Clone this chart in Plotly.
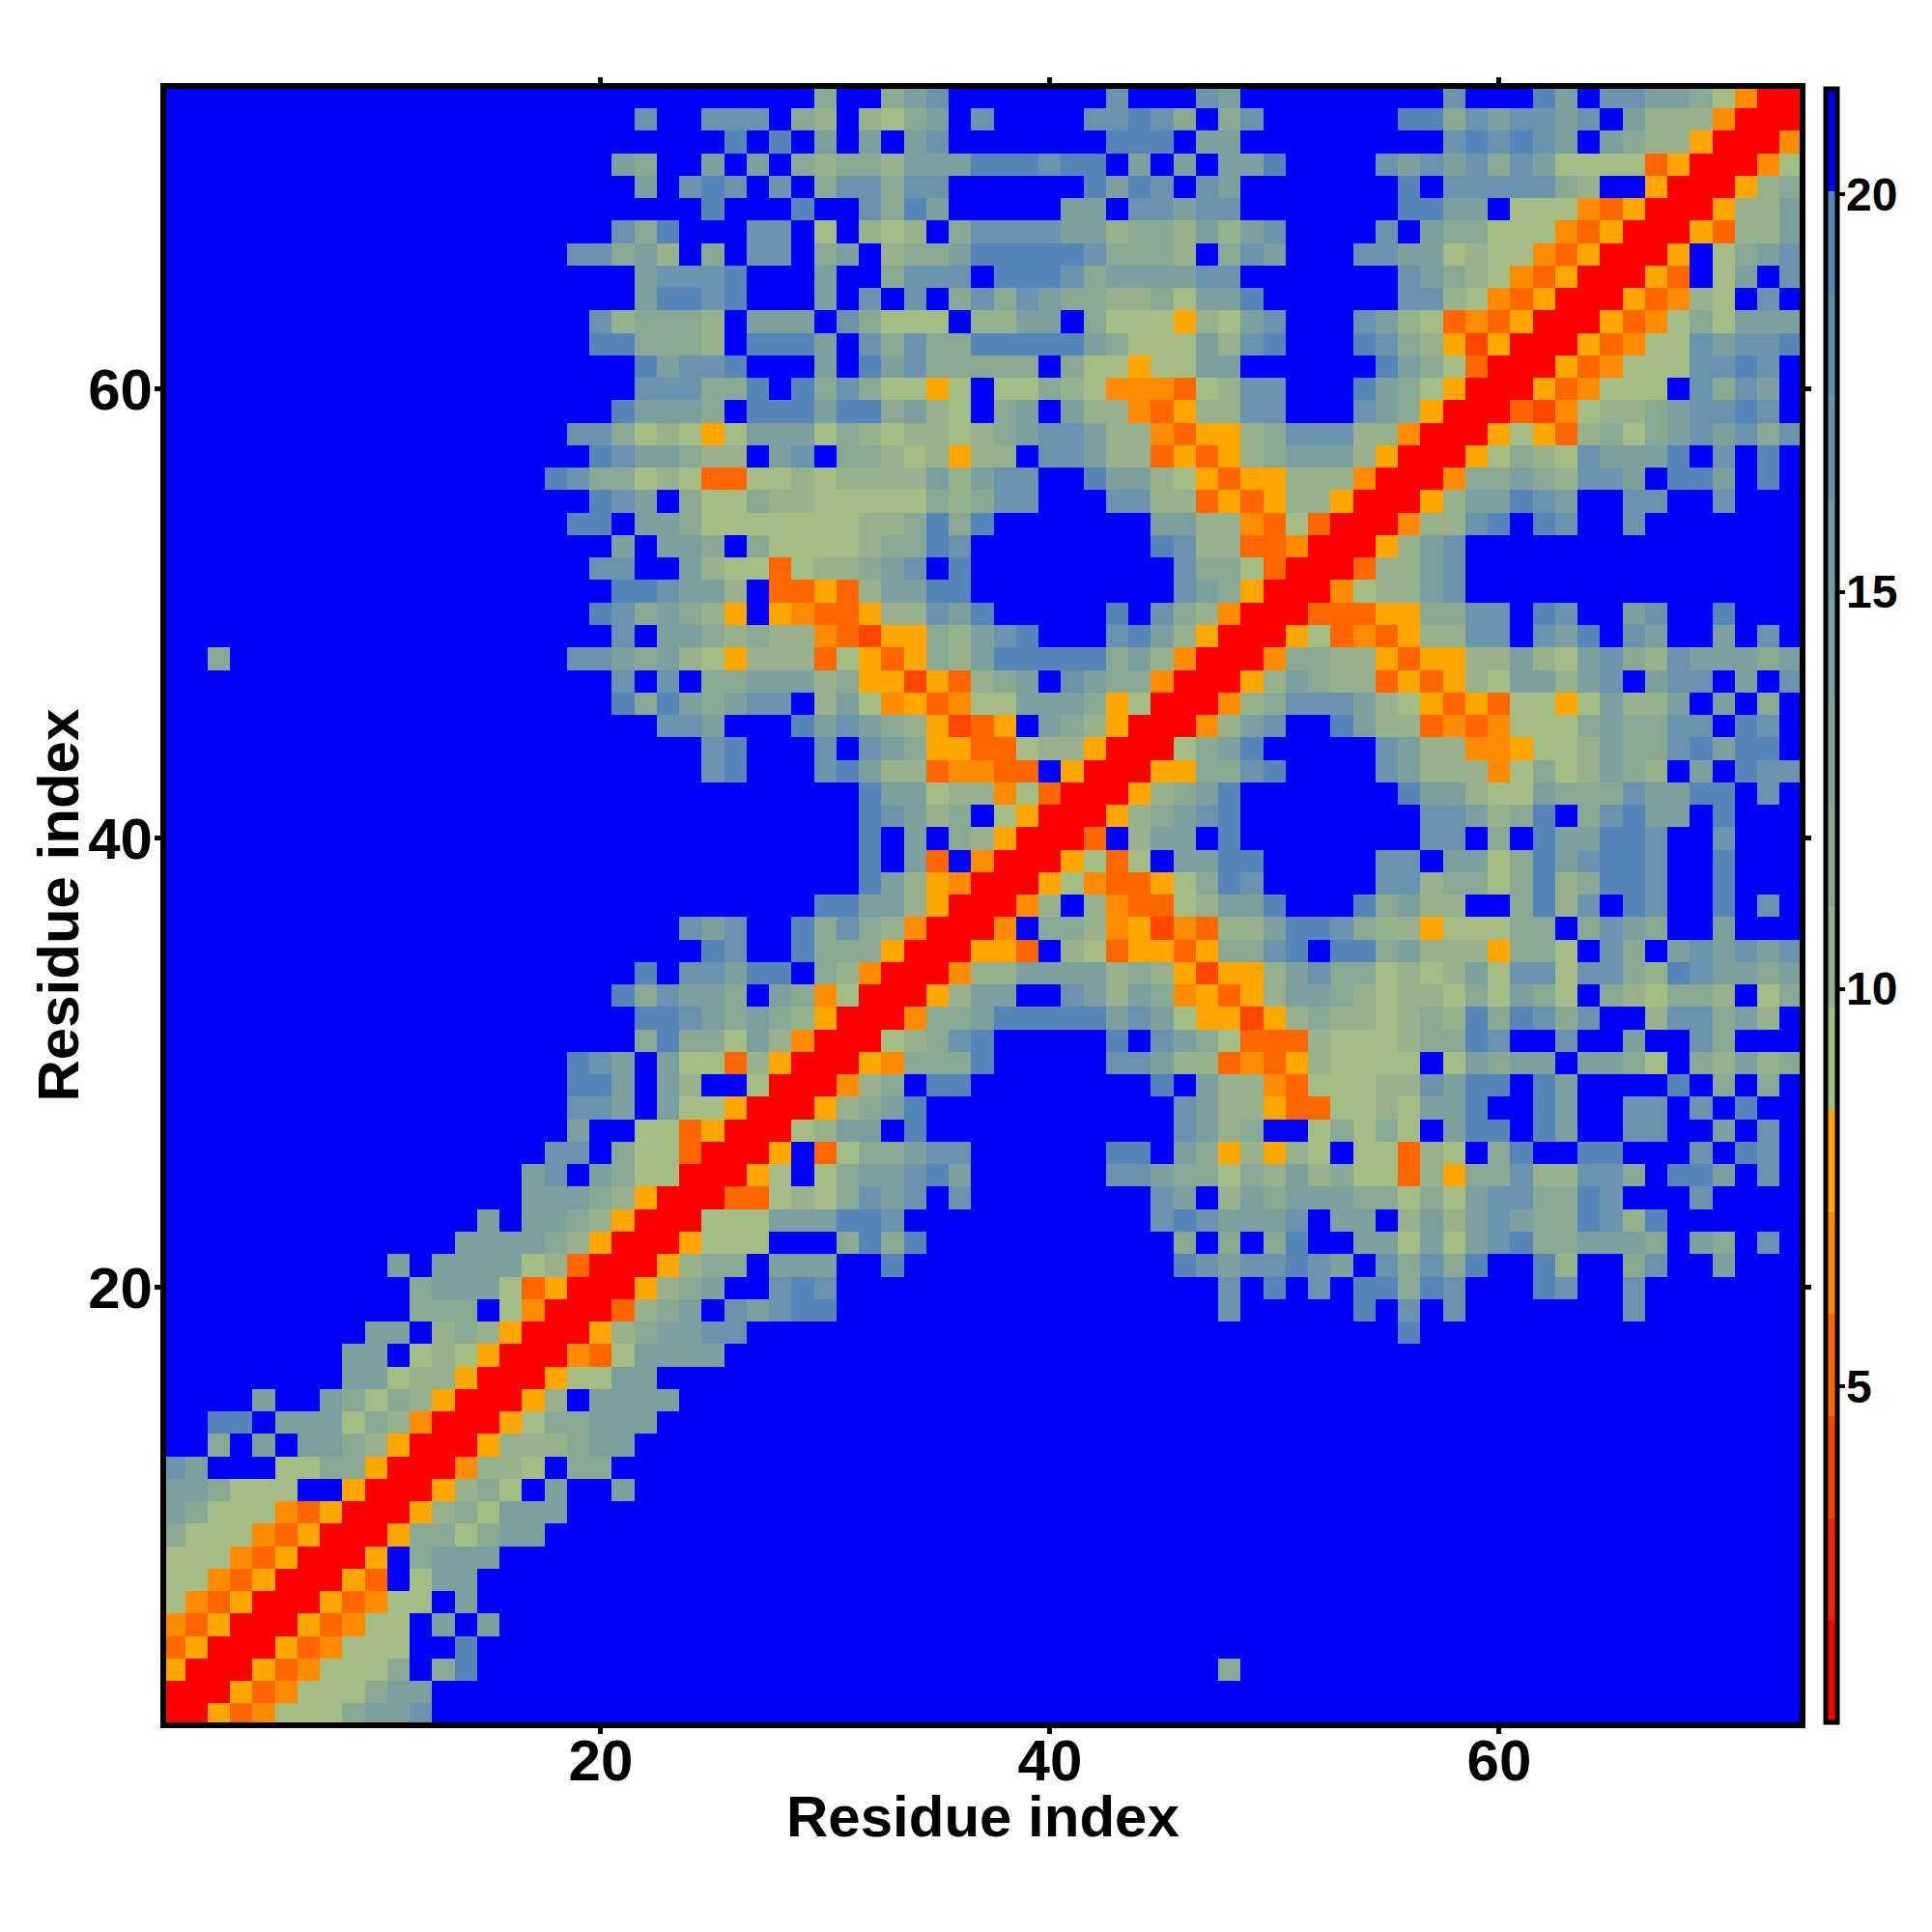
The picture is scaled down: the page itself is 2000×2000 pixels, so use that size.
import plotly.graph_objects as go

# Contact-distance levels, one row per residue (x = 1..y, groups of ten).
# The matrix is symmetric, so each row stops at the diagonal.
ROW_73 = ".......... .......... .........d ..dcb..... ..b...bc.. .......b.. .ac.bbccdf 3RR"
ROW_72 = ".......... .......... .b..bbb.de .efdc.b... .bbabd.db. .....aadbc bbcb.ceee3 RR"
ROW_71 = ".......... .......... .....a.a.c .c.cb..... ..aaa.cc.. .......bab abc.cdee4R R"
ROW_70 = ".......... .......... cd..c.c.de ddecccaaab aa.c.c.cca ....bcbcbd bcffff24RR"
ROW_69 = ".......... .......... .c.bab.b.d bbdbb..... .acab.bc.. .....a.bbb bbde..4RR"
ROW_68 = ".......... .......... ....a...a. .bdac..... cc.bbcbb.. .....aacc. fff324RR"
ROW_67 = ".......... .......... bda...bb.f .efe.dbbbb cceddececb ....b.cddf ff324RR"
ROW_66 = ".......... ........bb dce.d.bb.d c.eddcaaaa abddde.dbc ...bbccfef f324RR"
ROW_65 = ".......... .......... .cbbba...c ..dbbb.aaa bdccccbb.. .....bcdef 324RR"
ROW_64 = ".......... .......... .caaba...c .b.b.dbdbc ddeedfcca. .....bbef3 24RR"
ROW_63 = ".......... .........b eddde.ccc. bdfff.eecc .dfff4efcb ...bcef232 4RR"
ROW_62 = ".......... .........a addde.aaac .bdbddaaaa acdfffceba ...abde414 RR"
ROW_61 = ".......... .......... .acbba...c .acbddddd. dff4ffcc.. ....acdf2R R"
ROW_60 = ".......... .......... .bbbdda.ad bdff4f.ffd ef3332febb ...acdf4RR"
ROW_59 = ".......... .......... acccd.aaac aadcef.dc. cee324eebb ...bcd4RR"
ROW_58 = ".......... ........bb dfef4fcccf defeefedcb bcee3244ed bbbee3RR"
ROW_57 = ".......... .........a bccdee.cb. ddefe4ee.b bcee2424ed ccce4RR"
ROW_56 = ".......... .......abd dfef22ffef eeeececbb. .accef4244 eee3RR"
ROW_55 = ".......... .........a bc.dffdeef ffffdedbb. ..bbee2424 ee4RR"
ROW_54 = ".......... ........aa .ccdffffff feedada... ....ccee32 f2RR"
ROW_53 = ".......... .......... c.ccd.dfff feddab.... ....abee22 3RR"
ROW_52 = ".......... .........b b..ceff2fe edcb.a.... .....bddf2 RR"
ROW_51 = ".......... .......... aabcce.224 2eccaa.... .....bcd4R R"
ROW_50 = ".......... .........a bdcde4.432 24eebca... ..a.bde3RR"
ROW_49 = ".......... .......... b.ccdedee3 2144decba. ..bace4RR"
ROW_48 = "..d....... ........bb cdcef4eee2 f424decaaa aadce3RR"
ROW_47 = ".......... .......... b.b.ddccce d44142edc. bcdd3RR"
ROW_46 = ".......... .......... adacdcbb.e cf3423ffcc cd4fRR"
ROW_45 = ".......... .......... ..bbc...ac bcde4124.c de4RR"
ROW_44 = ".......... .......... ....ba...b .bcd4422fe e4RR"
ROW_43 = ".......... .......... ....ba...b acee23322. 4RR"
ROW_42 = ".......... .......... .......... .accfee3f2 RR"
ROW_41 = ".......... .......... .......... .abced.f4R R"
ROW_40 = ".......... .......... .......... .a.c.de4RR"
ROW_39 = ".......... .......... .......... .a.c2.3RR"
ROW_38 = ".......... .......... .......... .ace43RR"
ROW_37 = ".......... .......... .........a acce4RR"
ROW_36 = ".......... .......... ...bcb..ad bde3RR"
ROW_35 = ".......... .......... ....ab..ad dd4RR"
ROW_34 = ".......... .......... .a.bbcaa.d e3RR"
ROW_33 = ".......... .......... adbccd.cd3 fRR"
ROW_32 = ".......... .......... .aabcdcde4 RR"
ROW_31 = ".......... .......... .daddfce3R R"
ROW_30 = ".......... ........ab c.cff2e4RR"
ROW_29 = ".......... ........aa c.ce..fRR"
ROW_28 = ".......... ........bb c.cff4RR"
ROW_27 = ".......... ........c. .ff24RR"
ROW_26 = ".......... .......bb. dff2RR"
ROW_25 = ".......... ......cb.c dffRR"
ROW_24 = ".......... ......cccd e4RR"
ROW_23 = ".......... ....c.ccde 4RR"
ROW_22 = ".......... ...ccccde4 RR"
ROW_21 = ".......... c.ccccfe2R R"
ROW_20 = ".......... .dcccf24RR"
ROW_19 = ".......... .ddd.f3RR"
ROW_18 = ".........c c.ede4RR"
ROW_17 = "........cc .fef4RR"
ROW_16 = "........cc fee4RR"
ROW_15 = "....c..cdf de4RR"
ROW_14 = "..aa.cccfd e3RR"
ROW_13 = "..d.c.ccde 4RR"
ROW_12 = "bc...ffdd4 RR"
ROW_11 = "ccdfff..4R R"
ROW_10 = "cdfff324RR"
ROW_09 = "dfff324RR"
ROW_08 = "fff324RR"
ROW_07 = "ff324RR"
ROW_06 = "f324RR"
ROW_05 = "324RR"
ROW_04 = "24RR"
ROW_03 = "4RR"
ROW_02 = "RR"
ROW_01 = "R"

LEVEL_OF_SYMBOL = {"R": 1, "1": 3, "2": 4, "3": 5, "4": 6, "f": 7, "e": 8, "d": 9,
                   "c": 11, "b": 13, "a": 15, ".": 16}
LEVEL_COLORS = ["#ff0000", "#ff2200", "#ff4500", "#ff6600", "#ff8c00", "#ffa500",
                "#a3bd85", "#96b18b", "#8aa994", "#83a499", "#7da09f", "#7399a6",
                "#6a94ad", "#5f8cb3", "#5585b9", "#0000ff"]
Z_MIN = 0.77
Z_MAX = 21.33
TICK_VALUES = [20, 40, 60]
COLORBAR_TICKS = [5, 10, 15, 20]
AXIS_TITLE = "Residue index"

N = 73
rows = []
for y in range(1, N + 1):
    s = globals()[f"ROW_{y:02d}"].replace(" ", "")
    assert len(s) == y, f"row {y} has {len(s)}"
    rows.append(s)

step = (Z_MAX - Z_MIN) / len(LEVEL_COLORS)
def val(ch):
    return Z_MIN + (LEVEL_OF_SYMBOL[ch] - 0.5) * step

z = [[val(rows[max(i, j)][min(i, j)]) for j in range(N)] for i in range(N)]
residues = list(range(1, N + 1))

scale = []
for i, c in enumerate(LEVEL_COLORS):
    scale.append([i / len(LEVEL_COLORS), c])
    scale.append([(i + 1) / len(LEVEL_COLORS), c])

FONT = "Liberation Sans"
PAGE_OFFSET = 8  # the browser's default body margin
W, H = 2000 - 2 * PAGE_OFFSET, 2000 - 2 * PAGE_OFFSET
L, R, T, B = 172 - PAGE_OFFSET, 1863 - PAGE_OFFSET, 92 - PAGE_OFFSET, 1783 - PAGE_OFFSET
BAR_LEFT = 1889.5 - PAGE_OFFSET

fig = go.Figure(go.Heatmap(
    z=z, x=residues, y=residues, zmin=Z_MIN, zmax=Z_MAX, colorscale=scale,
    colorbar=dict(
        thickness=12, thicknessmode="pixels",
        len=B - T, lenmode="pixels",
        x=(BAR_LEFT - L) / (R - L), xanchor="left", xpad=0,
        y=0, yanchor="bottom", ypad=0,
        outlinewidth=5, outlinecolor="black",
        tickmode="array", tickvals=COLORBAR_TICKS,
        ticks="outside", ticklen=6, tickwidth=4, tickcolor="black",
        showticklabels=False,
    ),
))

axis_common = dict(
    tickmode="array", tickvals=TICK_VALUES,
    ticks="outside", ticklen=6, tickwidth=5, tickcolor="black",
    showline=True, linewidth=6, linecolor="black", mirror="ticks",
    showgrid=False, zeroline=False,
    tickfont=dict(family=FONT, size=60, color="black", weight="bold"),
)
TITLE_FONT = dict(family=FONT, size=60, color="black", weight="bold")
BAR_FONT = dict(family=FONT, size=48, color="black", weight="bold")

annotations = [
    dict(text=AXIS_TITLE, xref="paper", yref="paper", x=0.5, y=0, yanchor="middle",
         xanchor="center", yshift=-(1880 - 1783), showarrow=False, font=TITLE_FONT),
    dict(text=AXIS_TITLE, xref="paper", yref="paper", x=0, y=0.5, xanchor="center",
         yanchor="middle", xshift=-(172 - 60), textangle=-90, showarrow=False, font=TITLE_FONT),
]
for v in COLORBAR_TICKS:
    annotations.append(dict(
        text=str(v), xref="paper", yref="paper", x=1, xshift=47, xanchor="left",
        y=(v - Z_MIN) / (Z_MAX - Z_MIN), yanchor="middle", showarrow=False,
        borderpad=0, font=BAR_FONT,
    ))

fig.update_layout(
    width=W, height=H,
    margin=dict(l=L, r=W - R, t=T, b=H - B, pad=0),
    paper_bgcolor="white", plot_bgcolor="white",
    xaxis=dict(range=[0.65, 73.38], ticklabelstandoff=-24, **axis_common),
    yaxis=dict(range=[0.65, 73.36], ticklabelstandoff=-10, **axis_common),
    annotations=annotations,
)
fig.write_html("out.html")
